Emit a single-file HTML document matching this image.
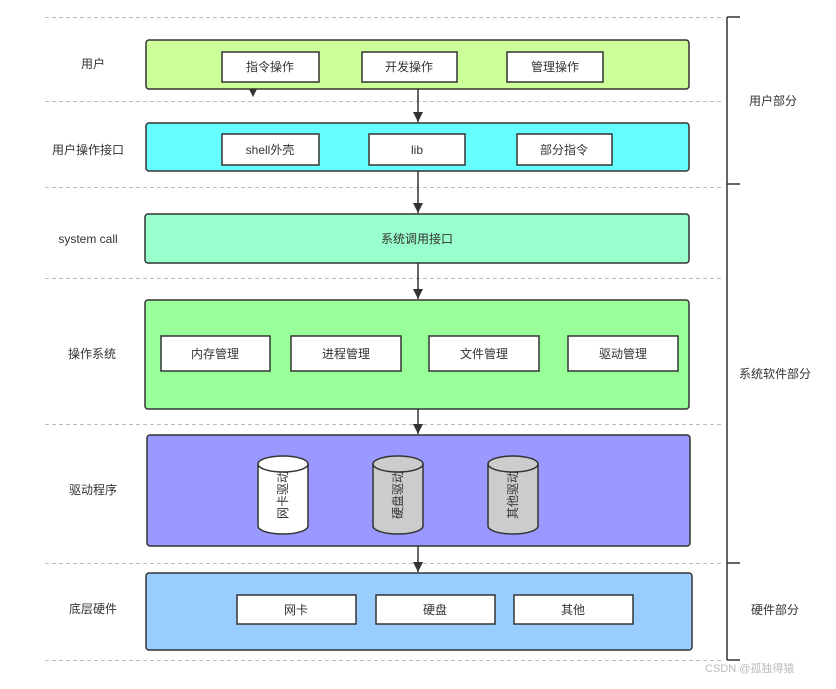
<!DOCTYPE html>
<html><head><meta charset="utf-8"><style>
body{margin:0;background:#fff;}
text{font-family:"Liberation Sans","Noto Sans CJK SC",sans-serif;font-size:12px;fill:#333;}
</style></head><body>
<svg width="836" height="684" xmlns="http://www.w3.org/2000/svg">
<defs><marker id="a" markerWidth="10" markerHeight="10" refX="10" refY="5" orient="auto" markerUnits="userSpaceOnUse"><path d="M0,0 L10,5 L0,10 z" fill="#333"/></marker></defs>
<g stroke="#bbb" stroke-dasharray="4,3" stroke-width="1">
<line x1="45" y1="17.5" x2="722" y2="17.5"/><line x1="45" y1="101.5" x2="722" y2="101.5"/>
<line x1="45" y1="187.5" x2="722" y2="187.5"/><line x1="45" y1="278.5" x2="722" y2="278.5"/>
<line x1="45" y1="424.5" x2="722" y2="424.5"/><line x1="45" y1="563.5" x2="722" y2="563.5"/>
<line x1="45" y1="660.5" x2="722" y2="660.5"/></g>
<g stroke="#333" stroke-width="1.5" fill="none">
<line x1="727" y1="17" x2="727" y2="660"/>
<line x1="727" y1="17" x2="740" y2="17"/><line x1="727" y1="184" x2="740" y2="184"/>
<line x1="727" y1="563" x2="740" y2="563"/><line x1="727" y1="660" x2="740" y2="660"/></g>
<text x="773" y="105" text-anchor="middle">用户部分</text>
<text x="775" y="378" text-anchor="middle">系统软件部分</text>
<text x="775" y="614" text-anchor="middle">硬件部分</text>
<g text-anchor="middle">
<text x="93" y="68">用户</text><text x="88" y="154">用户操作接口</text>
<text x="88" y="243">system call</text><text x="92" y="358">操作系统</text>
<text x="93" y="494">驱动程序</text><text x="93" y="613">底层硬件</text></g>
<g stroke="#333" stroke-width="1.5">
<rect x="146" y="40" width="543" height="49" rx="3" fill="#ccff99"/>
<rect x="146" y="123" width="543" height="48" rx="3" fill="#66ffff"/>
<rect x="145" y="214" width="544" height="49" rx="3" fill="#99ffcc"/>
<rect x="145" y="300" width="544" height="109" rx="3" fill="#99ff99"/>
<rect x="147" y="435" width="543" height="111" rx="3" fill="#9999ff"/>
<rect x="146" y="573" width="546" height="77" rx="3" fill="#99ccff"/>
<g fill="#fff">
<rect x="222" y="52" width="97" height="30"/><rect x="362" y="52" width="95" height="30"/><rect x="507" y="52" width="96" height="30"/>
<rect x="222" y="134" width="97" height="31"/><rect x="369" y="134" width="96" height="31"/><rect x="517" y="134" width="95" height="31"/>
<rect x="161" y="336" width="109" height="35"/><rect x="291" y="336" width="110" height="35"/><rect x="429" y="336" width="110" height="35"/><rect x="568" y="336" width="110" height="35"/>
<rect x="237" y="595" width="119" height="29"/><rect x="376" y="595" width="119" height="29"/><rect x="514" y="595" width="119" height="29"/>
</g>
<g>
<path d="M258,464 v62 a25,8 0 0 0 50,0 v-62 a25,8 0 0 0 -50,0 a25,8 0 0 0 50,0" fill="#fff"/>
<path d="M373,464 v62 a25,8 0 0 0 50,0 v-62 a25,8 0 0 0 -50,0 a25,8 0 0 0 50,0" fill="#ccc"/>
<path d="M488,464 v62 a25,8 0 0 0 50,0 v-62 a25,8 0 0 0 -50,0 a25,8 0 0 0 50,0" fill="#ccc"/>
</g>
<g fill="none" marker-end="url(#a)">
<line x1="418" y1="89" x2="418" y2="122"/><line x1="418" y1="171" x2="418" y2="213"/>
<line x1="418" y1="263" x2="418" y2="299"/><line x1="418" y1="409" x2="418" y2="434"/>
<line x1="418" y1="546" x2="418" y2="572"/></g>
</g>
<path d="M249,89 L257,89 L253,97 z" fill="#333"/>
<g text-anchor="middle">
<text x="270" y="71">指令操作</text><text x="409" y="71">开发操作</text><text x="555" y="71">管理操作</text>
<text x="270" y="154">shell外壳</text><text x="417" y="154">lib</text><text x="564" y="154">部分指令</text>
<text x="417" y="243">系统调用接口</text>
<text x="215" y="358">内存管理</text><text x="346" y="358">进程管理</text><text x="484" y="358">文件管理</text><text x="623" y="358">驱动管理</text>
<text x="296" y="614">网卡</text><text x="435" y="614">硬盘</text><text x="573" y="614">其他</text>
<text transform="translate(287,495) rotate(-90)">网卡驱动</text>
<text transform="translate(402,495) rotate(-90)">硬盘驱动</text>
<text transform="translate(517,495) rotate(-90)">其他驱动</text>
</g>
<text x="705" y="672" style="font-size:11px;fill:#bbb">CSDN @孤独得猿</text>
</svg>
</body></html>
